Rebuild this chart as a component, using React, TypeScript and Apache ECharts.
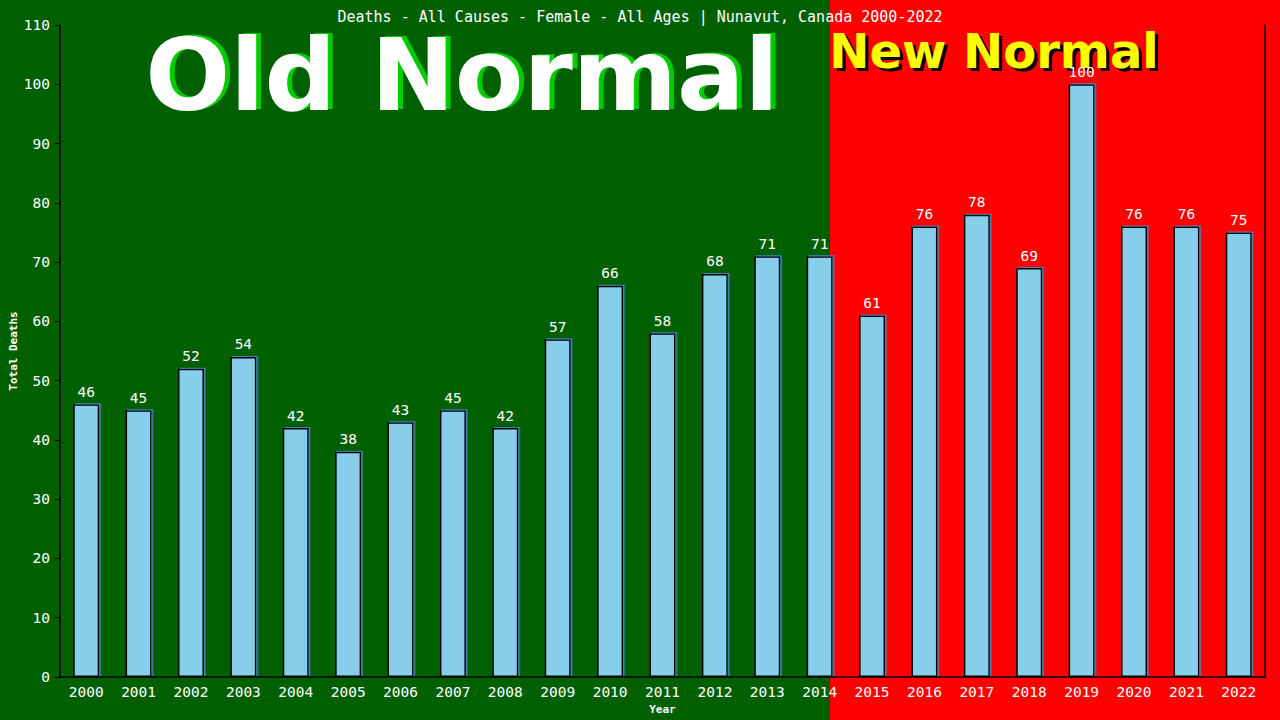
import React, { useEffect, useRef } from "react";
import * as echarts from "echarts";

const years = ["2000","2001","2002","2003","2004","2005","2006","2007","2008","2009","2010","2011","2012","2013","2014","2015","2016","2017","2018","2019","2020","2021","2022"];
const deaths = [46,45,52,54,42,38,43,45,42,57,66,58,68,71,71,61,76,78,69,100,76,76,75];
const yTicks = { min: 0, max: 110, interval: 10 };
const titleText = "Deaths - All Causes - Female - All Ages | Nunavut, Canada 2000-2022";
const yAxisName = "Total Deaths";
const xAxisName = "Year";

const MONO = "'DejaVu Sans Mono', monospace";
const SANS = "'DejaVu Sans', Verdana, sans-serif";

function bigText(text: string, x: number, y: number, size: number, fill: string, shadow: string, dx: number, dy: number) {
  const base = { textAlign: "center", textVerticalAlign: "middle", font: `bold ${size}px ${SANS}` };
  return [
    { type: "text", z: 1, x: x + dx, y: y + dy, silent: true, style: { ...base, text, fill: shadow } },
    { type: "text", z: 2, x, y, silent: true, style: { ...base, text, fill } },
  ];
}

export default function App() {
  const ref = useRef<HTMLDivElement>(null);
  useEffect(() => {
    if (!ref.current) return;
    const chart = echarts.init(ref.current, undefined, { renderer: "svg" });
    chart.setOption({
      animation: false,
      backgroundColor: "#006000",
      title: {
        text: titleText,
        left: "center",
        top: 4,
        textStyle: { color: "#ffffff", fontFamily: MONO, fontSize: 15, fontWeight: "normal" },
      },
      graphic: [
        { type: "rect", z: -100, shape: { x: 830, y: 0, width: 450, height: 720 }, style: { fill: "#ff0000" }, silent: true },
        ...bigText("Old Normal", 462, 75, 100, "#ffffff", "#00cc00", 5, -1),
        ...bigText("New Normal", 994, 51, 48, "#ffff00", "#000000", 3, 3),
        {
          type: "text", z: 2, x: 13, y: 351, rotation: Math.PI / 2, silent: true,
          style: {
            text: yAxisName, fill: "#ffffff", font: `bold 11px ${MONO}`,
            textAlign: "center", textVerticalAlign: "middle",
          },
        },
      ],
      grid: { left: 60, right: 15, top: 25, bottom: 43, containLabel: false, outerBoundsMode: "none" },
      xAxis: {
        type: "category",
        data: years,
        name: xAxisName,
        nameLocation: "middle",
        nameGap: 26,
        nameTextStyle: { color: "#ffffff", fontFamily: MONO, fontSize: 11, fontWeight: "bold" },
        axisLine: { show: true, lineStyle: { color: "#000000", width: 1.5 } },
        axisTick: { show: false },
        axisLabel: { color: "#ffffff", fontFamily: MONO, fontSize: 14.5, margin: 7 },
      },
      yAxis: [
        {
          type: "value",
          min: yTicks.min,
          max: yTicks.max,
          interval: yTicks.interval,
          axisLine: { show: true, lineStyle: { color: "#000000", width: 1.5 } },
          axisTick: { show: true, length: 5, lineStyle: { color: "#000000" } },
          axisLabel: { color: "#ffffff", fontFamily: MONO, fontSize: 14.5, margin: 10 },
          splitLine: { show: false },
        },
        {
          type: "value",
          position: "right",
          min: yTicks.min,
          max: yTicks.max,
          interval: yTicks.interval,
          axisLine: { show: true, lineStyle: { color: "#000000", width: 1.5 } },
          axisTick: { show: false },
          axisLabel: { show: false },
          splitLine: { show: false },
        },
      ],
      series: [
        {
          type: "bar",
          data: deaths,
          barWidth: 26,
          itemStyle: {
            color: "#87ceeb",
            borderColor: "#000000",
            borderWidth: 1.5,
            shadowColor: "#4682b4",
            shadowOffsetX: 1.5,
            shadowOffsetY: -1,
            shadowBlur: 0,
          },
          label: {
            show: true,
            position: "top",
            distance: 5,
            color: "#ffffff",
            fontFamily: MONO,
            fontSize: 14.5,
          },
        },
      ],
    });
    return () => chart.dispose();
  }, []);
  return <div ref={ref} style={{ position: "fixed", left: 0, top: 0, width: 1280, height: 720 }} />;
}
